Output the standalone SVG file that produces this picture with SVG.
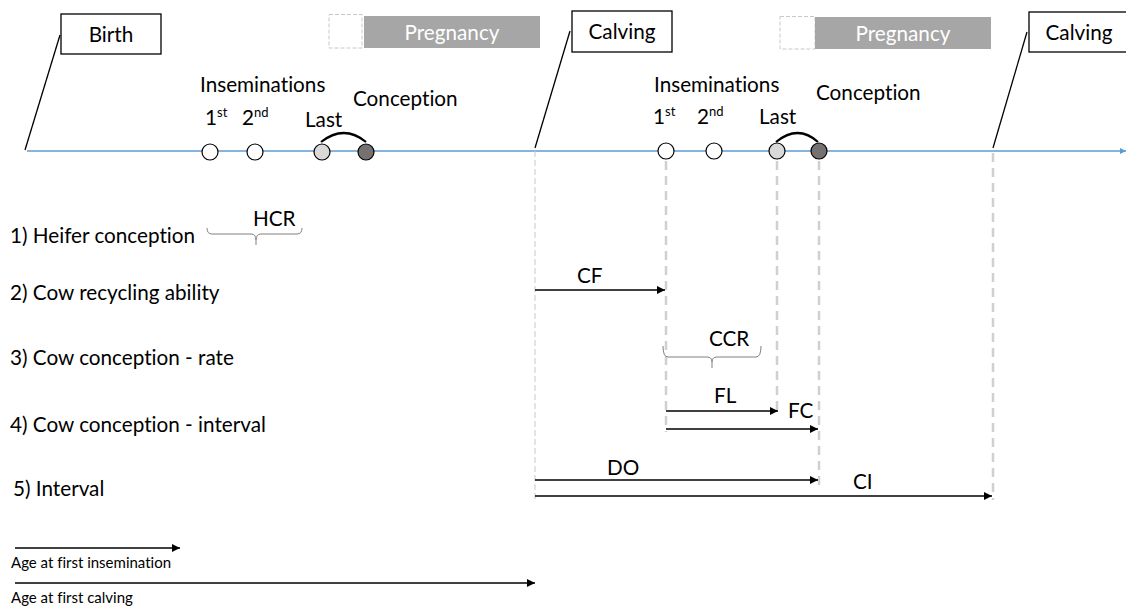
<svg xmlns="http://www.w3.org/2000/svg" width="1126" height="609" viewBox="0 0 1126 609">
<defs>
<style>
text{font-family:Lato,"Open Sans","Liberation Sans",sans-serif;fill:#000;font-variant-ligatures:none}
.t{font-size:20.7px}
.sm{font-size:15px}
.sup{font-size:13px}
.box{fill:#fff;stroke:#000;stroke-width:1.3}
.preg{fill:#A6A6A6}
.pregtxt{fill:#fff;font-size:20.7px}
.dbox{fill:none;stroke:#C8C8C8;stroke-width:1;stroke-dasharray:4,2}
.lead{stroke:#000;stroke-width:1.3;fill:none}
.arr{stroke:#000;stroke-width:1.3;fill:none;marker-end:url(#ah)}
.vthin{stroke:#C8C8C8;stroke-width:1;stroke-dasharray:6,3;fill:none}
.vthick{stroke:#D0D0D0;stroke-width:2.5;stroke-dasharray:9,6;fill:none}
.brace{stroke:#808080;stroke-width:1;fill:none}
.c{stroke:#000;stroke-width:1.2}
</style>
<marker id="ah" viewBox="0 0 10 10" refX="10" refY="5" markerWidth="8" markerHeight="8" markerUnits="userSpaceOnUse" orient="auto"><path d="M0,0 L10,5 L0,10 z" fill="#000"/></marker>
<marker id="ahb" viewBox="0 0 10 10" refX="10" refY="5" markerWidth="6" markerHeight="6" markerUnits="userSpaceOnUse" orient="auto"><path d="M0,0 L10,5 L0,10 z" fill="#5B9BD5"/></marker>
</defs>

<g id="timeline">
<line x1="27" y1="151" x2="1126" y2="151" stroke="#5B9BD5" stroke-width="1.5" marker-end="url(#ahb)"/>
</g>

<g id="connectors">
<line class="lead" x1="60" y1="35" x2="25" y2="150"/>
<line class="lead" x1="570" y1="31" x2="535" y2="148"/>
<line class="lead" x1="1027" y1="32" x2="993" y2="148"/>
<line class="vthin" x1="535" y1="151" x2="535" y2="500"/>
<line class="vthick" x1="666" y1="161" x2="666" y2="432"/>
<line class="vthick" x1="777" y1="161" x2="777" y2="410"/>
<line class="vthick" x1="819" y1="161" x2="819" y2="490"/>
<line class="vthick" x1="993" y1="153" x2="993" y2="500"/>
<path d="M321,142 Q344,124 366,142" stroke="#000" stroke-width="2.2" fill="none"/>
<path d="M776,142 Q798,124 818,142" stroke="#000" stroke-width="2.2" fill="none"/>
<line class="arr" x1="535" y1="290" x2="665" y2="290"/>
<line class="arr" x1="666" y1="411" x2="778" y2="411"/>
<line class="arr" x1="666" y1="429" x2="818" y2="429"/>
<line class="arr" x1="535" y1="480" x2="818" y2="480"/>
<line class="arr" x1="535" y1="496" x2="992" y2="496"/>
<line class="arr" x1="15" y1="548" x2="180" y2="548"/>
<line class="arr" x1="15" y1="583" x2="535" y2="583"/>
<path class="brace" d="M207,228 Q207,234 212,234 L251,234 Q256,234 256,240 L256,245 M256,240 Q256,234 261,234 L297,234 Q302,234 302,228"/>
<path class="brace" d="M663,346 Q663,357 668,357 L707,357 Q712,357 712,362 L712,368 M712,362 Q712,357 717,357 L756,357 Q761,357 761,346"/>
</g>

<g id="birth">
<rect class="box" x="61" y="14" width="100" height="40"/>
<text class="t" x="111" y="42" text-anchor="middle">Birth</text>
</g>

<g id="pregnancy1">
<rect class="dbox" x="329" y="14.5" width="33" height="33.5"/>
<rect class="preg" x="364" y="16" width="176" height="32"/>
<text class="pregtxt" x="452" y="40" text-anchor="middle">Pregnancy</text>
</g>

<g id="calving1">
<rect class="box" x="572" y="11" width="100" height="41"/>
<text class="t" x="622" y="39" text-anchor="middle">Calving</text>
</g>

<g id="pregnancy2">
<rect class="dbox" x="780" y="16.5" width="35" height="32.5"/>
<rect class="preg" x="815" y="17" width="176" height="32"/>
<text class="pregtxt" x="903" y="41" text-anchor="middle">Pregnancy</text>
</g>

<g id="calving2">
<rect class="box" x="1029" y="12" width="100" height="40"/>
<text class="t" x="1079" y="40" text-anchor="middle">Calving</text>
</g>

<g id="inseminations1">
<text class="t" x="200" y="92">Inseminations</text>
<text class="t" x="205" y="125">1<tspan class="sup" dy="-8">st</tspan></text>
<text class="t" x="242" y="125">2<tspan class="sup" dy="-8">nd</tspan></text>
<text class="t" x="305" y="127">Last</text>
<text class="t" x="353" y="106">Conception</text>
<circle class="c" cx="210" cy="152" r="8" fill="#fff"/>
<circle class="c" cx="255" cy="152" r="8" fill="#fff"/>
<circle class="c" cx="322" cy="152" r="8" fill="#D9D9D9"/>
<circle class="c" cx="366" cy="152" r="8" fill="#767171"/>
</g>

<g id="inseminations2">
<text class="t" x="654" y="92">Inseminations</text>
<text class="t" x="653" y="124">1<tspan class="sup" dy="-8">st</tspan></text>
<text class="t" x="697" y="124">2<tspan class="sup" dy="-8">nd</tspan></text>
<text class="t" x="759" y="124">Last</text>
<text class="t" x="816" y="100">Conception</text>
<circle class="c" cx="666" cy="151" r="8" fill="#fff"/>
<circle class="c" cx="714" cy="151" r="8" fill="#fff"/>
<circle class="c" cx="777" cy="151" r="8" fill="#D9D9D9"/>
<circle class="c" cx="819" cy="151" r="8" fill="#767171"/>
</g>

<g id="labels">
<text class="t" x="10" y="243">1) Heifer conception</text>
<text class="t" x="10" y="300">2) Cow recycling ability</text>
<text class="t" x="10" y="365">3) Cow conception - rate</text>
<text class="t" x="10" y="432">4) Cow conception - interval</text>
<text class="t" x="13" y="496">5) Interval</text>
<text class="t" x="253" y="226">HCR</text>
<text class="t" x="577" y="283">CF</text>
<text class="t" x="709" y="346">CCR</text>
<text class="t" x="714" y="403">FL</text>
<text class="t" x="788" y="418">FC</text>
<text class="t" x="607" y="475">DO</text>
<text class="t" x="853" y="489">CI</text>
<text class="sm" x="11" y="568">Age at first insemination</text>
<text class="sm" x="11" y="603">Age at first calving</text>
</g>
</svg>
